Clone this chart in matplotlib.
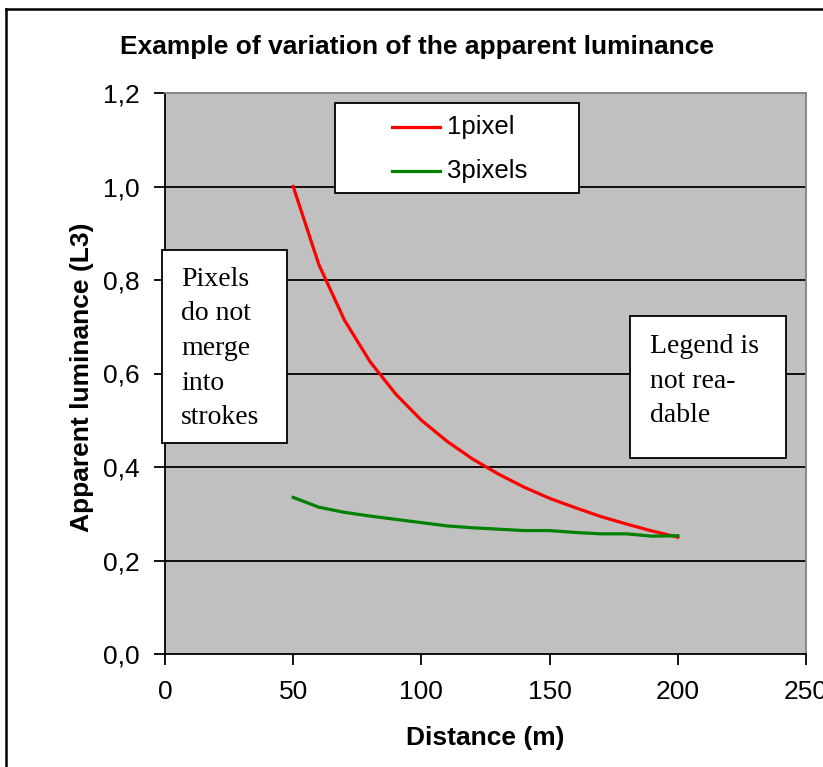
import matplotlib
matplotlib.use("Agg")
import matplotlib.pyplot as plt
from matplotlib.lines import Line2D
from matplotlib.patches import Rectangle
from matplotlib.ticker import FuncFormatter

# distance (m) and apparent luminance for the two stroke widths
distance = [50, 60, 70, 80, 90, 100, 110, 120, 130, 140, 150, 160, 170, 180, 190, 200]
lum_1px = [1.000, 0.833, 0.714, 0.625, 0.556, 0.500, 0.455, 0.417, 0.385, 0.357,
           0.333, 0.313, 0.294, 0.278, 0.263, 0.250]
lum_3px = [0.335, 0.314, 0.303, 0.295, 0.288, 0.281, 0.274, 0.270, 0.267, 0.264,
           0.264, 0.260, 0.257, 0.257, 0.252, 0.253]
series_names = ["1pixel", "3pixels"]

plt.rcParams['font.family'] = ['Liberation Sans', 'DejaVu Sans']

fig = plt.figure(figsize=(8.23, 7.67), dpi=100)
ax = fig.add_axes([165/823, 1 - 654/767, 641/823, 561/767])
ax.set_facecolor('#C0C0C0')

# outer chart frame (left and top edges visible)
fig.add_artist(Line2D([6/823, 6/823], [0, 1 - 9/767], transform=fig.transFigure,
                      color='black', lw=1.8))
fig.add_artist(Line2D([6/823, 1], [1 - 9/767, 1 - 9/767], transform=fig.transFigure,
                      color='black', lw=1.8))

for yv in [0.2, 0.4, 0.6, 0.8, 1.0]:
    ax.axhline(yv, color='black', lw=1.3, zorder=1)

ax.plot(distance, lum_1px, color='#FF0000', lw=2.3, zorder=3)
ax.plot(distance, lum_3px, color='#008000', lw=2.3, zorder=3)

ax.set_xlim(0, 250)
ax.set_ylim(0, 1.2)
ax.set_xticks([0, 50, 100, 150, 200, 250])
ax.set_yticks([0, 0.2, 0.4, 0.6, 0.8, 1.0, 1.2])
ax.yaxis.set_major_formatter(FuncFormatter(lambda v, p: f"{v:.1f}".replace('.', ',')))
ax.tick_params(direction='out', length=8, width=1.3, labelsize=19, pad=10)
ax.tick_params(axis='x', pad=11)
for s in ['top', 'right']:
    ax.spines[s].set_color('#808080')
    ax.spines[s].set_linewidth(1.3)
for s in ['left', 'bottom']:
    ax.spines[s].set_linewidth(1.3)

ax.set_xlabel("Distance (m)", fontsize=19, fontweight='bold')
ax.xaxis.set_label_coords(485/823, 1 - 738/767, transform=fig.transFigure)
ax.set_ylabel("Apparent luminance (L3)", fontsize=19, fontweight='bold')
ax.yaxis.set_label_coords(82/823, 1 - 377/767, transform=fig.transFigure)
ax.xaxis.label.set_va('center')
ax.yaxis.label.set_va('center')
fig.text(417/823, 1 - 47/767, "Example of variation of the apparent luminance",
         ha='center', va='center', fontsize=19, fontweight='bold')

# legend box
fig.add_artist(Rectangle((335/823, 1 - 193/767), 244/823, 90/767,
                         transform=fig.transFigure, facecolor='white',
                         edgecolor='black', lw=1.3, zorder=5))
for i, (name, col) in enumerate(zip(series_names, ['#FF0000', '#008000'])):
    yy = 1 - (127 + 44 * i)/767
    fig.add_artist(Line2D([392/823, 440/823], [yy, yy], transform=fig.transFigure,
                          color=col, lw=2.3, zorder=6))
    fig.text(447/823, yy, name, fontsize=18.5, va='center', ha='left', zorder=6)

# annotation boxes
serif = ['Liberation Serif', 'DejaVu Serif']
fig.add_artist(Rectangle((162/823, 1 - 443/767), 125/823, 193/767,
                         transform=fig.transFigure, facecolor='white',
                         edgecolor='black', lw=1.3, zorder=5))
fig.text(181/823, 1 - 267/767, "Pixels\ndo not\nmerge\ninto\nstrokes",
         family=serif, fontsize=20, va='top', ha='left', linespacing=1.5, zorder=6)
fig.add_artist(Rectangle((630/823, 1 - 458/767), 156/823, 142/767,
                         transform=fig.transFigure, facecolor='white',
                         edgecolor='black', lw=1.3, zorder=5))
fig.text(650/823, 1 - 334/767, "Legend is\nnot rea-\ndable",
         family=serif, fontsize=20, va='top', ha='left', linespacing=1.5, zorder=6)

fig.savefig("out.png", dpi=100)
